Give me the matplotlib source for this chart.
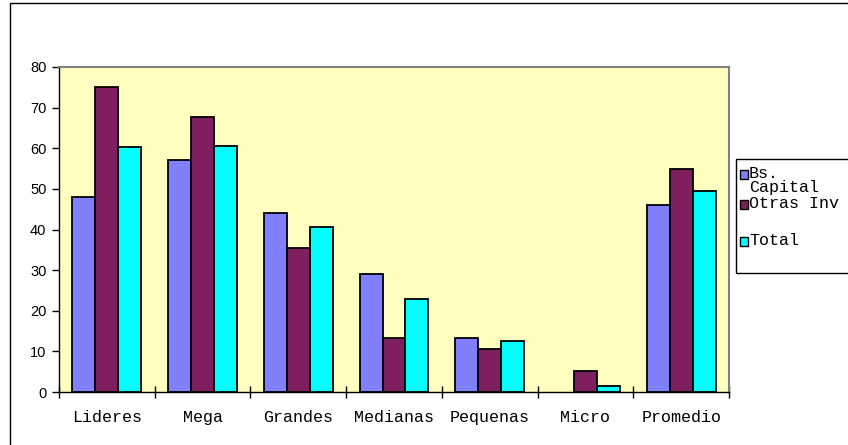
import numpy as np
import matplotlib.pyplot as plt
from matplotlib.patches import Rectangle

categories = ['Lideres', 'Mega', 'Grandes', 'Medianas', 'Pequenas', 'Micro', 'Promedio']
bs_capital = [47.9, 57.1, 44.0, 29.0, 13.4, 0.0, 46.1]
otras_inv = [75.0, 67.6, 35.5, 13.4, 10.7, 5.2, 55.0]
total = [60.3, 60.6, 40.5, 22.8, 12.6, 1.6, 49.4]
legend_labels = ['Bs.\nCapital', 'Otras Inv', 'Total']
colors = ['#8080FF', '#7F1F5F', '#00FFFF']

W, H = 848, 445
fig = plt.figure(figsize=(W / 100, H / 100), dpi=100)

# outer chart border (cropped on right and bottom)
fig.add_artist(Rectangle((10 / W, -0.1), 1.2, 1.1 - 3 / H, transform=fig.transFigure,
                         fill=False, edgecolor='black', linewidth=1.0))

ax = fig.add_axes([59 / W, (H - 392) / H, (729 - 59) / W, (392 - 67) / H])
ax.set_facecolor('#FFFFC0')

x = np.arange(len(categories)) + 0.5
bw = 0.24
for k, vals in enumerate([bs_capital, otras_inv, total]):
    vals = np.array(vals)
    edges = ['black' if v > 0 else 'none' for v in vals]
    ax.bar(x + (k - 1) * bw, vals, width=bw, color=colors[k],
           edgecolor=edges, linewidth=1.3, zorder=3)

ax.set_xlim(0, len(categories))
ax.set_ylim(0, 80)
ax.set_yticks(range(0, 81, 10))
ax.set_xticks(range(len(categories) + 1))
ax.set_xticklabels([])
ax.set_xticks(x, minor=True)
ax.set_xticklabels(categories, minor=True, family='Liberation Mono', fontsize=12)
ax.tick_params(axis='x', which='minor', length=0, pad=13)
ax.tick_params(axis='x', which='major', direction='inout', length=8, width=1)
ax.tick_params(axis='y', direction='out', length=5, width=1, labelsize=10.5, pad=4)
for lab in ax.get_yticklabels():
    lab.set_family('Liberation Sans')

for s in ['top', 'right']:
    ax.spines[s].set_color('#808080')
    ax.spines[s].set_linewidth(1.5)
for s in ['left', 'bottom']:
    ax.spines[s].set_color('black')
    ax.spines[s].set_linewidth(1.0)

# legend box
fig.add_artist(Rectangle((736 / W, (H - 273) / H), 0.2, (273 - 159) / H,
                         transform=fig.transFigure, fill=False,
                         edgecolor='black', linewidth=1.0))
ys = [174, 204, 241]
for lab, c, yy in zip(legend_labels, colors, ys):
    fig.add_artist(Rectangle((740 / W, (H - yy - 4.5) / H), 8 / W, 9 / H,
                             transform=fig.transFigure, facecolor=c,
                             edgecolor='black', linewidth=1.0))
    fig.text(749 / W, (H - yy + 8) / H, lab, family='Liberation Mono',
             fontsize=12, va='top', ha='left', linespacing=0.95)

fig.savefig('out.png', dpi=100)
